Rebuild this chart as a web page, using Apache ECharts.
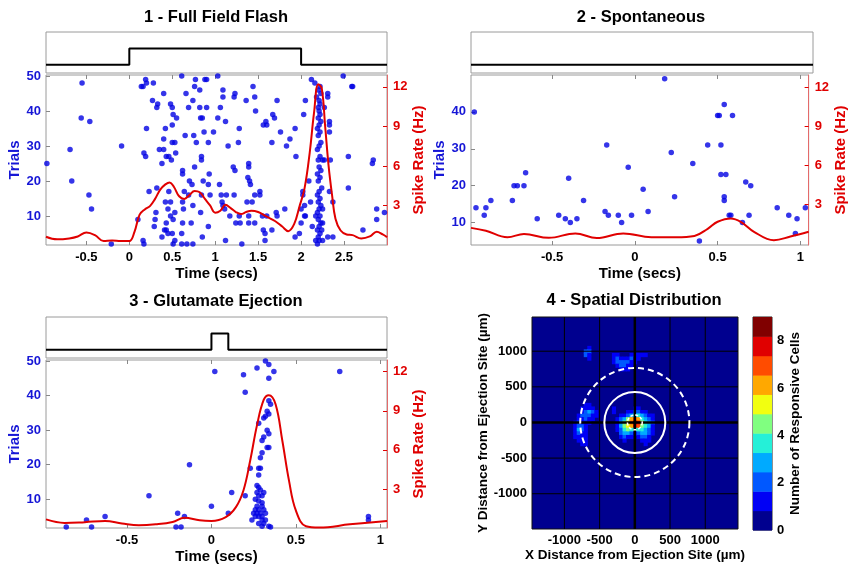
<!DOCTYPE html>
<html>
<head>
<meta charset="utf-8">
<script src="https://cdn.jsdelivr.net/npm/echarts@6/dist/echarts.min.js"></script>
<style>
html, body { margin: 0; padding: 0; background: #fff; }
#chart { width: 849px; height: 565px; }
</style>
</head>
<body>
<div id="chart"></div>
<script>
var FONT = "'Liberation Sans', Arial, sans-serif";
var BLUE = "#1616d6";
var DOT = "#0202e4";
var RED = "#e00000";

// ---- panel 1 : full field flash
var p1Range = [-0.97, 3.0];
var p1StimX = [-0.97, 0, 0, 2, 2, 3.0];
var p1StimY = [0.2, 0.2, 0.6, 0.6, 0.2, 0.2];
var p1XTicks = [-0.5, 0, 0.5, 1, 1.5, 2, 2.5];
var p1Spikes = [
    [-0.96,25],[-0.55,48],[-0.56,38],[-0.46,37],[-0.69,29],[-0.67,20],[-0.47,16],[-0.44,12],[-0.09,30],[-0.21,2],
    [0.14,47],[0.16,47],[0.19,49],[0.2,48],[0.28,48],[0.27,43],[0.32,41],[0.33,42],[0.17,28],[0.19,27],[0.2,35],[0.1,9],
    [0.16,3],[0.17,2],[0.23,17],[0.31,11],[0.3,9],[0.29,7],[0.32,18],[0.35,29],[0.4,29],[0.38,25],[0.4,32],[0.4,45],
    [0.42,35],[0.43,27],[0.46,27],[0.5,31],[0.48,42],[0.5,41],[0.51,39],[0.55,38],[0.5,36],[0.49,26],[0.46,17],[0.45,12],
    [0.42,14],[0.43,8],[0.41,6],[0.43,6],[0.45,5],[0.38,4],[0.48,14],[0.48,10],[0.51,9],[0.53,11],[0.5,5],[0.53,3],[0.51,2],
    [0.61,50],[0.53,31],[0.54,28],[0.62,22],[0.62,23],[0.64,17],[0.62,14],[0.63,12],[0.62,8],[0.61,5],[0.61,2],[0.67,2],
    [0.65,33],[0.66,45],[0.69,41],[0.74,43],[0.76,47],[0.77,49],[0.75,33],[0.7,20],[0.69,16],[0.73,19],[0.74,13],[0.72,8],
    [0.74,2],[0.76,24],[0.78,31],[0.82,46],[0.82,41],[0.83,38],[0.85,38],[0.84,27],[0.84,26],[0.86,20],[0.84,16],[0.83,11],
    [0.85,4],[0.87,34],[0.88,49],[0.9,49],[0.9,41],[0.92,31],[0.93,22],[0.92,19],[0.92,7],[0.94,16],[0.98,34],
    [1.03,50],[1.03,38],[1.05,19],[1.06,41],[1.09,46],[1.09,44],[1.08,14],[1.12,37],[1.15,30],[1.09,13],[1.11,12],[1.07,16],
    [1.13,16],[1.12,3],[1.17,10],[1.22,44],[1.21,24],[1.23,23],[1.22,16],[1.23,45],[1.28,35],[1.27,31],[1.28,10],[1.29,8],
    [1.31,2],[1.24,8],[1.36,43],[1.38,21],[1.39,25],[1.39,24],[1.37,14],[1.39,10],[1.39,8],[1.4,20],[1.41,19],[1.43,14],
    [1.44,47],[1.46,44],[1.47,40],[1.46,16],[1.52,17],[1.52,16],[1.46,8],[1.55,10],[1.56,6],[1.58,5],[1.58,3],[1.56,36],
    [1.59,37],[1.6,36],[1.6,10],[1.67,39],[1.66,31],[1.66,6],[1.69,38],[1.71,11],[1.72,10],[1.72,43],[1.76,34],[1.81,12],
    [1.83,30],[1.87,32],[1.93,35],[1.94,27],[1.93,4],[1.98,5],[2.0,8],[2.0,12],[2.02,17],[2.02,16],[2.03,39],[2.05,43],
    [2.04,13],[2.05,10],[2.04,10],[2.12,49],[2.09,20],[2.11,14],[2.16,48],[2.13,7],[2.18,44],[2.31,45],[2.31,44],[2.27,41],
    [2.33,37],[2.25,26],[2.27,26],[2.34,26],[2.33,17],[2.37,14],[2.37,4],[2.31,4],[2.49,50],[2.6,47],[2.59,47],[2.33,36],
    [2.33,34],[2.55,27],[2.55,18],[2.72,6],[2.84,26],[2.83,25],[2.88,12],[2.88,9],[2.97,11],
    [2.19,2],[2.21,3],[2.2,4],[2.22,5],[2.19,6],[2.21,7],[2.23,8],[2.2,9],[2.22,10],[2.19,11],[2.21,12],[2.23,13],[2.2,14],
    [2.22,15],[2.19,16],[2.21,17],[2.24,18],[2.2,20],[2.22,21],[2.19,22],[2.23,23],[2.21,24],[2.2,26],[2.22,27],[2.19,29],
    [2.21,30],[2.23,31],[2.2,33],[2.22,34],[2.19,35],[2.21,36],[2.23,37],[2.2,38],[2.22,39],[2.21,40],[2.2,41],[2.22,42],
    [2.21,43],[2.23,45],[2.2,46],[2.22,47],[2.25,8],[2.25,12],[2.17,10],[2.17,3],[2.25,3],[2.24,6]
];
var p1Time = [-0.97,-0.84,-0.7,-0.6,-0.5,-0.4,-0.3,-0.2,-0.1,0,0.06,0.12,0.18,0.24,0.3,0.36,0.42,0.47,0.52,0.58,0.64,0.7,
    0.76,0.82,0.88,0.94,1.0,1.06,1.12,1.18,1.24,1.3,1.36,1.42,1.5,1.6,1.7,1.78,1.85,1.92,1.98,2.04,2.1,2.15,2.2,2.24,2.28,
    2.32,2.36,2.4,2.46,2.53,2.6,2.7,2.8,2.88,2.95,3.0];
var p1Rate = [0.63,0.43,0.5,0.65,0.95,0.75,0.3,0.35,0.3,0.3,1.0,2.3,2.7,2.95,3.5,4.2,4.6,4.75,4.4,3.7,3.5,3.8,
    4.1,4.0,3.5,3.0,2.45,2.6,3.05,2.8,2.5,2.35,2.5,2.6,2.5,2.15,1.8,1.4,1.05,1.6,2.9,4.3,7.0,10.0,12.2,11.9,9.0,
    6.0,3.8,2.0,1.1,0.8,0.75,0.5,0.65,1.0,0.8,0.6];

// ---- panel 2 : spontaneous
var p2Range = [-0.99, 1.05];
var p2StimX = [-0.99, 1.05];
var p2StimY = [0.2, 0.2];
var p2XTicks = [-0.5, 0, 0.5, 1];
var p2Spikes = [[-0.97,40],[-0.96,14],[-0.91,12],[-0.9,14],[-0.87,16],[-0.74,16],[-0.73,20],[-0.71,20],[-0.67,20],
    [-0.66,23.5],[-0.59,11],[-0.46,12],[-0.42,11],[-0.4,22],[-0.39,10],[-0.35,11],[-0.31,16],[-0.17,31],[-0.18,13],
    [-0.16,12],[-0.1,12],[-0.08,10],[-0.04,25],[-0.02,12],[0.05,19],[0.08,13],[0.18,49],[0.22,29],[0.24,17],[0.35,26],
    [0.39,5],[0.44,31],[0.5,39],[0.51,39],[0.52,31],[0.52,23],[0.55,23],[0.54,42],[0.54,17],[0.54,16],[0.57,12],[0.58,12],
    [0.59,39],[0.65,10],[0.67,21],[0.69,12],[0.7,20],[0.86,14],[0.93,12],[0.98,11],[0.97,7],[1.03,14]];
var p2Time = [-0.99,-0.9,-0.77,-0.67,-0.52,-0.36,-0.23,-0.07,0.1,0.25,0.36,0.44,0.5,0.58,0.64,0.72,0.84,0.94,1.05];
var p2Rate = [1.17,0.95,0.45,0.7,0.4,0.74,0.38,0.74,0.45,0.45,0.55,1.1,1.64,1.9,1.64,0.87,0.22,0.5,0.87];

// ---- panel 3 : glutamate ejection
var p3Range = [-0.98, 1.04];
var p3StimX = [-0.98, 0, 0, 0.1, 0.1, 1.04];
var p3StimY = [0.2, 0.2, 0.6, 0.6, 0.2, 0.2];
var p3XTicks = [-0.5, 0, 0.5, 1];
var p3Spikes = [[-0.86,2],[-0.74,4],[-0.71,2],[-0.63,5],[-0.37,11],[-0.21,2],[-0.18,2],[-0.2,6],[-0.16,5],[-0.13,20],
    [0,8],[0.02,47],[0.1,6],[0.12,12],[0.19,46],[0.2,41],[0.2,11],[0.27,48],[0.32,50],[0.34,49],[0.37,47],[0.34,45],
    [0.76,47],[0.93,5],[0.93,4],[0.34,38.5],[0.35,37.5],[0.33,35.5],[0.34,34.7],[0.32,34],[0.31,33.5],[0.28,32],[0.33,30],
    [0.34,29],[0.31,28],[0.3,27],[0.33,25],[0.34,25],[0.3,23.5],[0.29,22],[0.23,19],[0.28,19],[0.29,19],[0.28,17],
    [0.27,14],[0.28,13.4],[0.29,12.7],[0.27,12],[0.31,12],[0.28,11],[0.3,11],[0.26,10],[0.28,9.5],[0.3,9],[0.27,8],
    [0.3,8],[0.26,7],[0.28,7],[0.31,7],[0.25,6],[0.27,6],[0.29,6],[0.32,6],[0.26,5],[0.28,5],[0.3,5],[0.24,4],[0.3,4],
    [0.32,4],[0.3,2.2],[0.34,2.2],[0.35,2],[0.28,3],[0.31,3]];
var p3Time = [-0.98,-0.87,-0.75,-0.63,-0.53,-0.43,-0.33,-0.23,-0.16,-0.07,0,0.085,0.145,0.19,0.23,0.27,0.31,0.34,
    0.38,0.42,0.46,0.5,0.56,0.64,0.82,1.04];
var p3Rate = [0.66,0.39,0.45,0.54,0.35,0.21,0.28,0.46,0.79,0.59,0.54,0.84,1.6,2.9,5.2,7.9,9.85,10.2,9.5,6.7,3.6,
    1.35,0.13,0.03,0.28,0.54];

var trialTicks = [10, 20, 30, 40, 50];
var trialTicks2 = [10, 20, 30, 40];
var rateTicks = [3, 6, 9, 12];

// ---- panel 4 : spatial distribution, contour level per 50 um cell (0 = background)
var spatialX0 = -900;
var spatialY0 = 1100;
var spatialStep = 50;
var spatialRows = [
    "000000000000000000000000000",
    "000001000000000000000000000",
    "000022000000000000000000000",
    "000021000000110001111100000",
    "000001000000121112110000000",
    "000000000000122221100000000",
    "000000000000012211000000000",
    "000000000000001110000000000",
    "000000000000000000000000000",
    "000000000000000000000000000",
    "000000000000000000000000000",
    "000000000000000000000000000",
    "000000000000000000000000000",
    "000000000000000000000000000",
    "000000000000000000000000000",
    "000000000000000000000000000",
    "000000000000000000000000000",
    "000011000000000000000000000",
    "000111100000100000110000000",
    "000123210000100011221100000",
    "001222110000001123443211000",
    "001121100000012357874321000",
    "012111000000013568A96432000",
    "012210000000013567985431000",
    "013210000000012454444321000",
    "012110000000002332123321000",
    "011110000000001211012210000",
    "001110000000000100001110000",
    "000110000000000000000100000",
    "000000000000000000000000000",
    "000000000000000000000000000"
];
var levelColors = ["#00008f", "#0000f5", "#0058ff", "#00aaff", "#25f0d8", "#80ff80",
    "#f2ff10", "#ffa800", "#ff4c00", "#e00000", "#800000"];
var spatialTicks = [-1000, -500, 0, 500, 1000];
var spatialRings = [433, 775, 105];
var cbarTicks = [0, 2, 4, 6, 8];
var cbarMax = 9;

var option = {
    animation: false,
    textStyle: {fontFamily: FONT},
    grid: [],
    xAxis: [],
    yAxis: [],
    series: [],
    graphic: []
};

function pairs(xs, ys) {
    var out = [];
    for (var i = 0; i < xs.length; i++) out.push([xs[i], ys[i]]);
    return out;
}

function boldText(size, color) {
    return {color: color, fontWeight: "bold", fontSize: size, fontFamily: FONT};
}

function plain(v) {
    return String(v);
}

function addPanel(box, xr, stimX, stimY, spikes, time, rate, xTicks, tTicks, tr, rr) {
    var g = option.grid.length;
    var xi = option.xAxis.length;
    var yi = option.yAxis.length;
    option.grid.push({left: box[0], top: box[1], width: box[2], height: 41, show: true, borderColor: "#9a9a9a", borderWidth: 1});
    option.grid.push({left: box[0], top: box[1] + 43, width: box[2], height: 170, show: true, borderColor: "#9a9a9a", borderWidth: 1});
    // stimulus trace
    option.xAxis.push({gridIndex: g, type: "value", min: xr[0], max: xr[1], show: false});
    option.yAxis.push({gridIndex: g, type: "value", min: 0, max: 1, show: false});
    // time axis + tick-only copy on top
    option.xAxis.push({
        gridIndex: g + 1, type: "value", min: xr[0], max: xr[1], position: "bottom",
        axisLine: {show: false, onZero: false}, splitLine: {show: false},
        axisTick: {inside: true, length: 4, customValues: xTicks, lineStyle: {color: "#888"}},
        axisLabel: Object.assign({customValues: xTicks, margin: 6}, boldText(13, "#000")),
        name: "Time (secs)", nameLocation: "middle", nameGap: 21, nameTextStyle: boldText(15, "#000")
    });
    option.xAxis.push({
        gridIndex: g + 1, type: "value", min: xr[0], max: xr[1], position: "top",
        axisLine: {show: false, onZero: false}, splitLine: {show: false}, axisLabel: {show: false},
        axisTick: {inside: true, length: 4, customValues: xTicks, lineStyle: {color: "#888"}}
    });
    option.yAxis.push({
        gridIndex: g + 1, type: "value", min: tr[0], max: tr[1], position: "left",
        axisLine: {show: false, onZero: false}, splitLine: {show: false},
        axisTick: {show: true, inside: true, length: 4, customValues: tTicks, lineStyle: {color: "#888"}},
        axisLabel: Object.assign({customValues: tTicks, margin: 5}, boldText(13, BLUE)),
        name: "Trials", nameLocation: "middle", nameRotate: 90, nameGap: 24, nameTextStyle: boldText(15, BLUE)
    });
    option.yAxis.push({
        gridIndex: g + 1, type: "value", min: rr[0], max: rr[1], position: "right",
        axisLine: {show: true, onZero: false, lineStyle: {color: "#e46a6a", width: 1}}, splitLine: {show: false},
        axisTick: {show: true, inside: true, length: 4, customValues: rateTicks, lineStyle: {color: RED}},
        axisLabel: Object.assign({customValues: rateTicks, margin: 6}, boldText(13, RED)),
        name: "Spike Rate (Hz)", nameLocation: "middle", nameRotate: 90, nameGap: 23, nameTextStyle: boldText(15, RED)
    });
    option.series.push({
        type: "line", xAxisIndex: xi, yAxisIndex: yi, data: pairs(stimX, stimY),
        symbol: "none", lineStyle: {color: "#000", width: 2}, silent: true
    });
    option.series.push({
        type: "scatter", xAxisIndex: xi + 1, yAxisIndex: yi + 1, data: spikes,
        symbolSize: 5.5, itemStyle: {color: DOT}, z: 2
    });
    option.series.push({
        type: "line", xAxisIndex: xi + 1, yAxisIndex: yi + 2, data: pairs(time, rate),
        smooth: 0.4, symbol: "none", lineStyle: {color: RED, width: 2}, z: 3
    });
}

addPanel([46, 32, 341], p1Range, p1StimX, p1StimY, p1Spikes, p1Time, p1Rate, p1XTicks, trialTicks, [1.7, 50.3], [0, 12.9]);
addPanel([471, 32, 342], p2Range, p2StimX, p2StimY, p2Spikes, p2Time, p2Rate, p2XTicks, trialTicks2, [3.9, 50], [-0.15, 12.95]);
addPanel([46, 317, 341], p3Range, p3StimX, p3StimY, p3Spikes, p3Time, p3Rate, p3XTicks, trialTicks, [1.7, 50.3], [0, 12.9]);

// ---- panel 4 : spatial map
var hg = option.grid.length;
var hx = option.xAxis.length;
var hy = option.yAxis.length;
option.grid.push({left: 532, top: 317, width: 206, height: 212, show: true, backgroundColor: levelColors[0], borderColor: "#111", borderWidth: 1});
option.grid.push({left: 753, top: 317, width: 19, height: 213, show: true, borderColor: "#222", borderWidth: 1});
option.xAxis.push({
    gridIndex: hg, type: "value", min: -1460, max: 1465,
    axisLine: {show: false, onZero: false}, axisTick: {show: false}, splitLine: {show: false},
    axisLabel: Object.assign({customValues: spatialTicks, margin: 5, formatter: plain}, boldText(13, "#000")),
    name: "X Distance from Ejection Site (\u00b5m)", nameLocation: "middle", nameGap: 17, nameTextStyle: boldText(13.5, "#000")
});
option.yAxis.push({
    gridIndex: hg, type: "value", min: -1495, max: 1480,
    axisLine: {show: false, onZero: false}, axisTick: {show: false}, splitLine: {show: false},
    axisLabel: Object.assign({customValues: spatialTicks, margin: 5, formatter: plain}, boldText(13, "#000")),
    name: "Y Distance from Ejection Site (\u00b5m)", nameLocation: "middle", nameRotate: 90, nameGap: 27, nameTextStyle: boldText(13.5, "#000")
});
option.xAxis.push({gridIndex: hg + 1, type: "value", min: 0, max: 1, show: false});
option.yAxis.push({
    gridIndex: hg + 1, type: "value", min: 0, max: cbarMax, position: "right",
    axisLine: {show: false, onZero: false}, axisTick: {show: false}, splitLine: {show: false},
    axisLabel: Object.assign({customValues: cbarTicks, margin: 5}, boldText(13, "#000")),
    name: "Number of Responsive Cells", nameLocation: "middle", nameRotate: 90, nameGap: 10, nameTextStyle: boldText(13.5, "#000")
});

var cells = [];
for (var j = 0; j < spatialRows.length; j++) {
    for (var i = 0; i < spatialRows[j].length; i++) {
        var lv = parseInt(spatialRows[j].charAt(i), 16);
        if (lv > 0) cells.push([spatialX0 + i * spatialStep, spatialY0 - j * spatialStep, lv]);
    }
}

option.series.push({
    type: "custom", xAxisIndex: hx, yAxisIndex: hy, data: cells, z: 2, silent: true,
    renderItem: function (params, api) {
        var c = api.coord([api.value(0), api.value(1)]);
        var s = api.size([spatialStep, spatialStep]);
        return {
            type: "rect",
            shape: {x: c[0] - s[0] / 2, y: c[1] - s[1] / 2, width: s[0] + 0.6, height: s[1] + 0.6},
            style: {fill: levelColors[api.value(2)]}
        };
    }
});
option.series.push({
    type: "custom", xAxisIndex: hx, yAxisIndex: hy, z: 3, silent: true,
    data: spatialTicks.map(function (v) { return [v]; }),
    renderItem: function (params, api) {
        var cs = params.coordSys;
        var p = api.coord([api.value(0), api.value(0)]);
        var w = api.value(0) === 0 ? 2.5 : 1;
        return {
            type: "group",
            children: [
                {type: "line", shape: {x1: p[0], y1: cs.y, x2: p[0], y2: cs.y + cs.height}, style: {stroke: "#000", lineWidth: w}},
                {type: "line", shape: {x1: cs.x, y1: p[1], x2: cs.x + cs.width, y2: p[1]}, style: {stroke: "#000", lineWidth: w}}
            ]
        };
    }
});
var ringStyles = [
    {stroke: "#fff", lineWidth: 2, fill: null},
    {stroke: "#fff", lineWidth: 2, fill: null, lineDash: [6, 4]},
    {stroke: "#fff", lineWidth: 1.5, fill: null, lineDash: [3, 2]}
];
option.series.push({
    type: "custom", xAxisIndex: hx, yAxisIndex: hy, z: 4, silent: true,
    data: spatialRings.map(function (r) { return [r]; }),
    renderItem: function (params, api) {
        var c = api.coord([0, 0]);
        var r = api.size([api.value(0), 0])[0];
        return {type: "circle", shape: {cx: c[0], cy: c[1], r: r}, style: ringStyles[params.dataIndex]};
    }
});
// colour bar
option.series.push({
    type: "custom", xAxisIndex: hx + 1, yAxisIndex: hy + 1, silent: true,
    data: levelColors.map(function (c, k) { return [k]; }),
    renderItem: function (params, api) {
        var k = api.value(0);
        var lo = k * cbarMax / levelColors.length;
        var hi = (k + 1) * cbarMax / levelColors.length;
        var a = api.coord([0, lo]);
        var b = api.coord([1, hi]);
        return {type: "rect", shape: {x: a[0], y: b[1], width: b[0] - a[0], height: a[1] - b[1] + 0.5}, style: {fill: levelColors[k]}};
    }
});

// titles
var titles = ["1 - Full Field Flash", "2 - Spontaneous", "3 - Glutamate Ejection", "4 - Spatial Distribution"];
var titlePos = [[216, 17], [641, 17], [216, 301], [634, 300]];
for (var t = 0; t < titles.length; t++) {
    option.graphic.push({
        type: "text", x: titlePos[t][0], y: titlePos[t][1], silent: true,
        style: {text: titles[t], align: "center", verticalAlign: "middle", fill: "#000",
            fontSize: 16.5, fontWeight: "bold", fontFamily: FONT}
    });
}

var chart = echarts.init(document.getElementById("chart"), null, {renderer: "canvas"});
chart.setOption(option);
</script>
</body>
</html>
